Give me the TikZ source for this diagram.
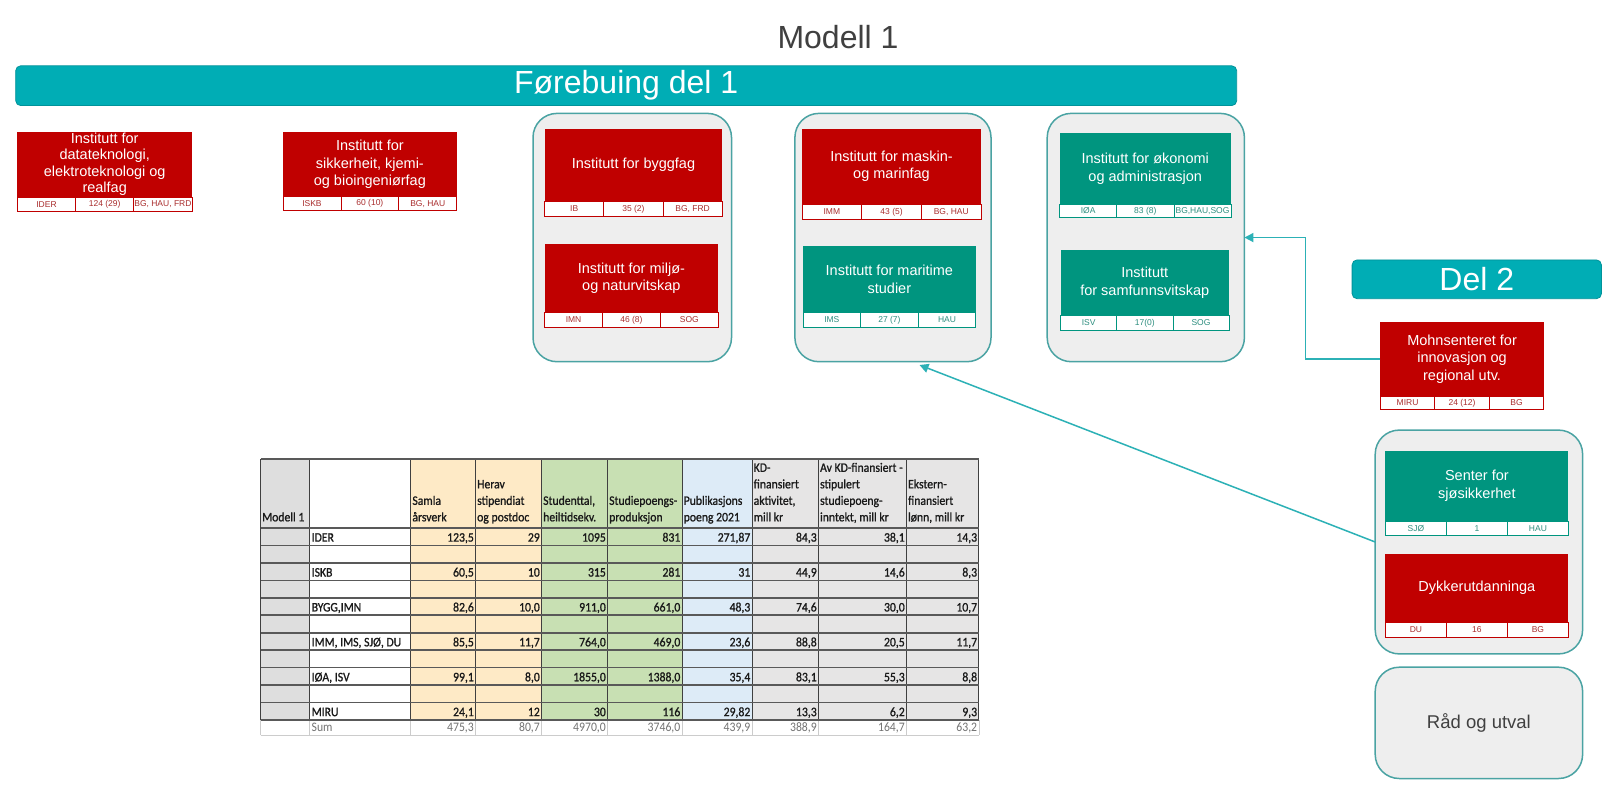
\documentclass[tikz,border=0pt]{standalone}
\usepackage{fontspec}
\setmainfont{Liberation Sans}
\newfontfamily\tabfont[FakeStretch=0.9,FakeBold=1]{Carlito}
\newfontfamily\sumfont[FakeStretch=0.9]{Carlito}
\usetikzlibrary{positioning,arrows.meta,calc}

\definecolor{barteal}{HTML}{00ADB5}
\definecolor{instred}{HTML}{C00000}
\definecolor{instteal}{HTML}{00957F}
\definecolor{groupline}{HTML}{4AA3A3}
\definecolor{groupfill}{HTML}{EEEEEE}
\definecolor{linkteal}{HTML}{2CB1B6}
\definecolor{peach}{HTML}{FEEAC6}
\definecolor{sage}{HTML}{C8E0B3}
\definecolor{skyblue}{HTML}{DDEBF7}
\definecolor{cellgrey}{HTML}{E6E5E5}
\definecolor{colgrey}{HTML}{DEDEDE}

% row of three code cells under an institute box
\newcommand{\labelrow}[7]{%
  \node[#2, minimum width=#3, minimum height=#4, anchor=north west] (#1-a) at (#1.south west) {#5};
  \node[#2, minimum width=#3, minimum height=#4, right=0pt of #1-a] (#1-b) {#6};
  \node[#2, minimum width=#3, minimum height=#4, right=0pt of #1-b] (#1-c) {#7};
}

\begin{document}
\begin{tikzpicture}[
    x=1pt, y=-1pt,
    bar/.style={rectangle, rounded corners=5pt, fill=barteal, draw=barteal!85!black, line width=0.8pt, text=white, font=\fontsize{32}{38}\selectfont, anchor=north west},
    group/.style={rectangle, rounded corners=24pt, draw=groupline, fill=groupfill, line width=1.5pt, anchor=north west, outer sep=0pt},
    inst/.style={rectangle, fill=#1, text=white, align=center, inner sep=1pt, outer sep=0pt, anchor=north west, font=\fontsize{14.5}{17.5}\selectfont},
    redbox/.style={inst=instred},
    tealbox/.style={inst=instteal},
    cell/.style={rectangle, draw=#1, fill=white, text=#1!65!gray, inner sep=0pt, outer sep=0pt, line width=0.8pt, font=\fontsize{8.5}{9}\selectfont},
    redcell/.style={cell=instred},
    tealcell/.style={cell=instteal},
    link/.style={draw=linkteal, line width=1.5pt, -{Triangle[length=9pt,width=9pt]}},
    hdr/.style={font=\tabfont\fontsize{13}{16.5}\selectfont, align=left, anchor=south west, inner sep=1.5pt, text=black!90},
    num/.style={font=\tabfont\fontsize{13}{15}\selectfont, anchor=base east, inner sep=0pt, text=black!90},
    rowname/.style={num, anchor=base west},
    sumtext/.style={num, font=\sumfont\fontsize{13}{15}\selectfont, text=black!55},
    vline/.style={draw=black!75, line width=1pt},
    hline/.style={draw=black!65, line width=1.6pt},
    sumline/.style={draw=black!20, line width=0.6pt}
]
    \useasboundingbox (0,0) rectangle (1602,802);
    \fill[white] (0,0) rectangle (1602,802);

    % Title and bars
    \node[font=\fontsize{32}{38}\selectfont, text=black!75] (title) at (838,37) {Modell 1};
    \node[bar, minimum width=1221, minimum height=39.8] (del1) at (15.3,65.4) {Førebuing del 1};
    \node[bar, minimum width=249.3, minimum height=38.8] (del2) at (1351.7,259.5) {Del 2};

    % Groups
    \node[group, minimum width=198.5, minimum height=248.3] (c1) at (533,113.4) {};
    \node[group, minimum width=196.1, minimum height=248.3] (c2) at (794.9,113.4) {};
    \node[group, minimum width=197.2, minimum height=248.3] (c3) at (1047.2,113.4) {};
    \node[group, minimum width=207.4, minimum height=223.8] (c4) at (1375.2,430.1) {};
    \node[group, minimum width=207.4, minimum height=111.3, font=\fontsize{18.5}{22}\selectfont, text=black!75] (c5) at (1375.2,667.2) {Råd og utval};

    % Institutes, del 1
    \node[redbox, minimum width=174.6, minimum height=65.4, font=\fontsize{14.5}{16.5}\selectfont, inner sep=0pt] (ider) at (17.4,131.8) {Institutt for\\datateknologi,\\elektroteknologi og\\realfag};
    \labelrow{ider}{redcell}{58.2}{14.3}{IDER}{124 (29)}{BG, HAU, FRD}
    \node[redbox, minimum width=173.7, minimum height=65] (iskb) at (283,131.8) {Institutt for\\sikkerheit, kjemi-\\og bioingeniørfag};
    \labelrow{iskb}{redcell}{57.9}{14}{ISKB}{60 (10)}{BG, HAU}

    \node[redbox, minimum width=177.7, minimum height=72.6] (ib) at (544.6,128.7) {Institutt for byggfag};
    \labelrow{ib}{redcell}{59.2}{15.3}{IB}{35 (2)}{BG, FRD}
    \node[redbox, minimum width=173.6, minimum height=68.4] (imn) at (544.6,244.2) {Institutt for miljø-\\og naturvitskap};
    \labelrow{imn}{redcell}{57.9}{14.4}{IMN}{46 (8)}{SOG}

    \node[redbox, minimum width=179, minimum height=75.6] (imm) at (802,128.7) {Institutt for maskin-\\og marinfag};
    \labelrow{imm}{redcell}{59.7}{15.4}{IMM}{43 (5)}{BG, HAU}
    \node[tealbox, minimum width=172.7, minimum height=66.4] (ims) at (803,246.2) {Institutt for maritime\\studier};
    \labelrow{ims}{tealcell}{57.6}{14.4}{IMS}{27 (7)}{HAU}

    \node[tealbox, minimum width=171.5, minimum height=71.5] (ioa) at (1059.5,132.8) {Institutt for økonomi\\og administrasjon};
    \labelrow{ioa}{tealcell}{57.2}{13.3}{IØA}{83 (8)}{BG,HAU,SOG}
    \node[tealbox, minimum width=168.5, minimum height=65.4] (isv) at (1060.5,250.3) {Institutt\\for samfunnsvitskap};
    \labelrow{isv}{tealcell}{56.2}{14.3}{ISV}{17(0)}{SOG}

    % Del 2
    \node[redbox, minimum width=163.5, minimum height=74.6] (miru) at (1380.3,321.8) {Mohnsenteret for\\innovasjon og\\regional utv.};
    \labelrow{miru}{redcell}{54.5}{13.3}{MIRU}{24 (12)}{BG}
    \node[tealbox, minimum width=182.9, minimum height=70.5] (sjo) at (1385.4,450.6) {Senter for\\sjøsikkerhet};
    \labelrow{sjo}{tealcell}{61}{14.3}{SJØ}{1}{HAU}
    \node[redbox, minimum width=182.9, minimum height=68.4] (du) at (1385.4,553.8) {Dykkerutdanninga};
    \labelrow{du}{redcell}{61}{15.3}{DU}{16}{BG}

    % Arrows
    \coordinate (c2hit) at (919.5,365);
    \draw[link] (miru.west) -- ++(-74.6,0) |- (c3.east);
    \draw[link] (c4.west) -- (c2hit);

    % Table
    \fill[colgrey] (260.5,459) rectangle (309.6,720);
    \fill[peach] (410.7,459) rectangle (541.5,720);
    \fill[sage] (541.5,459) rectangle (682,720);
    \fill[skyblue] (682,459) rectangle (752,720);
    \fill[cellgrey] (752,459) rectangle (978.8,720);
    \foreach \x in {260.5,309.6,410.7,475.5,541.5,607.5,682,752,818.4,906.4,978.8} {
        \draw[vline] (\x,459) -- (\x,720);
        \draw[sumline] (\x,720) -- (\x,735);
    }
    \draw[hline] (260.5,459) -- (978.8,459);
    \foreach \r in {0,...,11}
        \draw[hline] (260.5,528+\r*17.45) -- (978.8,528+\r*17.45);
    \draw[sumline] (260.5,735) -- (978.8,735);

    \foreach \x/\txt [count=\k] in {260.5/{Modell 1}, 410.7/{Samla\\årsverk}, 475.5/{Herav\\stipendiat\\og postdoc},
        541.5/{Studenttal,\\heiltidsekv.}, 607.5/{Studiepoengs-\\produksjon}, 682/{Publikasjons\\poeng 2021},
        752/{KD-\\finansiert\\aktivitet,\\mill kr}, 818.4/{Av KD-finansiert -\\stipulert\\studiepoeng-\\inntekt, mill kr},
        906.4/{Ekstern-\\finansiert\\lønn, mill kr}}
        \node[hdr] (h\k) at (\x,528) {\txt\strut};

    \foreach \row/\nm/\va/\vb/\vc/\vd/\ve/\vf/\vg/\vh in {
        1/IDER/{123,5}/29/1095/831/{271,87}/{84,3}/{38,1}/{14,3},
        3/ISKB/{60,5}/10/315/281/31/{44,9}/{14,6}/{8,3},
        5/{BYGG,IMN}/{82,6}/{10,0}/{911,0}/{661,0}/{48,3}/{74,6}/{30,0}/{10,7},
        7/{IMM, IMS, SJØ, DU}/{85,5}/{11,7}/{764,0}/{469,0}/{23,6}/{88,8}/{20,5}/{11,7},
        9/{IØA, ISV}/{99,1}/{8,0}/{1855,0}/{1388,0}/{35,4}/{83,1}/{55,3}/{8,8},
        11/MIRU/{24,1}/12/30/116/{29,82}/{13,3}/{6,2}/{9,3}} {
        \node[rowname] (nm\row) at (311.5,528+\row*17.45-3.8) {\nm};
        \foreach \v/\xr [count=\k] in {\va/475.5,\vb/541.5,\vc/607.5,\vd/682,\ve/752,\vf/818.4,\vg/906.4,\vh/978.8}
            \node[num] (d\row-\k) at (\xr-1.5,528+\row*17.45-3.8) {\v};
    }
    \node[sumtext, anchor=base west] (sumname) at (311.5,731.5) {Sum};
    \foreach \v/\xr [count=\k] in {{475,3}/475.5,{80,7}/541.5,{4970,0}/607.5,{3746,0}/682,{439,9}/752,{388,9}/818.4,{164,7}/906.4,{63,2}/978.8}
        \node[sumtext] (s\k) at (\xr-1.5,731.5) {\v};
\end{tikzpicture}
\end{document}
